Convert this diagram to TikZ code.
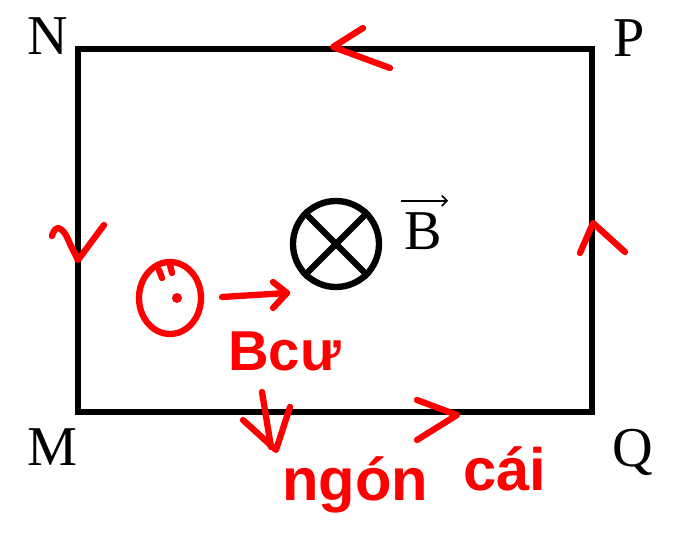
\documentclass[tikz,border=0pt]{standalone}
\usepackage{fontspec}
\setmainfont{Liberation Serif}
\newfontfamily\handfont{Liberation Sans}
\usetikzlibrary{calc,arrows.meta}

\begin{document}
\begin{tikzpicture}[x=0.02cm,y=-0.02cm,
  frame/.style={line width=3.6pt},
  ink/.style={red,line width=3.6pt,line cap=round,line join=round},
  lbl/.style={font=\fontsize{32}{32}\selectfont,inner sep=0pt,anchor=base},
  hand/.style={red,font=\handfont\bfseries\fontsize{#1}{#1}\selectfont,inner sep=0pt,anchor=base west}]
  \useasboundingbox (0,0) rectangle (675,540);
  % loop MNPQ
  \coordinate (M) at (78,412);
  \coordinate (N) at (78,49);
  \coordinate (P) at (592,49);
  \coordinate (Q) at (592,412);
  \draw[frame] (M)--(N)--(P)--(Q)--cycle;
  \node[lbl] (labN) at (48,55) {N};
  \node[lbl] (labP) at (629,57) {P};
  \node[lbl] (labM) at (52,465) {M};
  \node[lbl] (labQ) at (633,466) {Q};
  % field into the page
  \node[circle,draw,line width=3.6pt,minimum size=1.72cm,inner sep=0pt] (flux) at (336,244) {};
  \draw[frame] (flux.north west)--(flux.south east) (flux.north east)--(flux.south west);
  \node[lbl] (labB) at (423,250) {B};
  \draw[line width=0.9pt,-{Straight Barb[length=3pt]}] ($(labB.north west)+(-3,-12)$)--($(labB.north east)+(6,-12)$);
  % red notes: current direction
  \draw[ink] (363,28)--(333,47)--(390,68);
  \draw[ink] (52,236) .. controls (56,222) and (64,228) .. (70,244)--(78,260)--(104,225);
  \draw[ink] (580,253)--(593,223)--(625,252);
  \draw[ink] (417,400)--(457,415)--(417,440);
  % induced field out of the page
  \coordinate (eye) at (170,298);
  \draw[ink] (eye) ellipse [x radius=31,y radius=36];
  \fill[red] (177,298) circle [radius=5];
  \draw[ink] (159,270)--(162,278) (170,265)--(172,273);
  \draw[ink] (222,297)--(287,293);
  \draw[ink] (273,282)--(287,293)--(273,308);
  \node[hand=32] (bcu) at (228,370) {Bcư};
  \draw[ink] (262,392)--(271,447);
  \draw[ink] (243,420)--(276,450)--(290,407);
  \node[hand=34] (ngon) at (282,500) {ngón};
  \node[hand=34] (cai) at (463,490) {cái};
\end{tikzpicture}
\end{document}
